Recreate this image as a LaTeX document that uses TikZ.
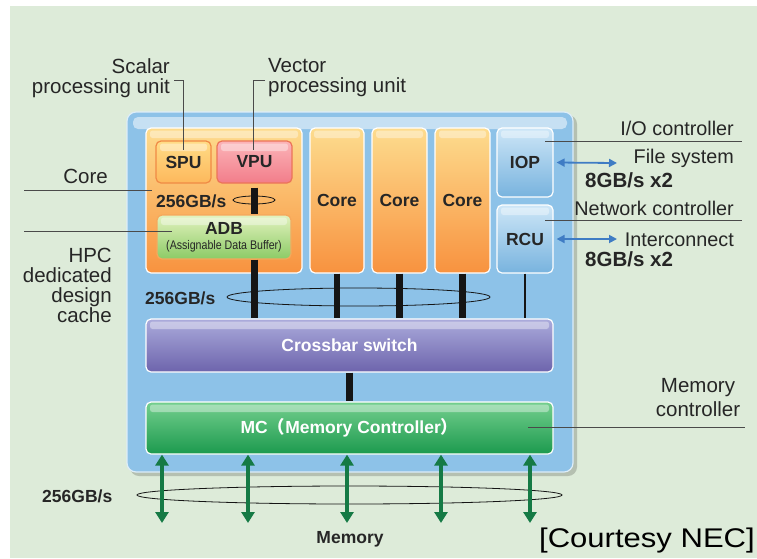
\documentclass[tikz,border=0pt]{standalone}
\usepackage{fontspec}
\setmainfont{Liberation Sans}
\newfontfamily\cjkfont{Noto Sans CJK SC}
\usetikzlibrary{arrows.meta}
\definecolor{bg}{HTML}{DDEBD9}
\definecolor{txt}{HTML}{262626}
\definecolor{mainblue}{HTML}{8DC2E8}
\definecolor{coretop}{HTML}{FDDC8E}
\definecolor{corebot}{HTML}{F8923F}
\definecolor{sputop}{HTML}{FFDC86}
\definecolor{spubot}{HTML}{FDB85C}
\definecolor{spuedge}{HTML}{F08A45}
\definecolor{vputop}{HTML}{FBB4B8}
\definecolor{vpubot}{HTML}{F27D8A}
\definecolor{vpuedge}{HTML}{EC7458}
\definecolor{adbtop}{HTML}{E2F2BE}
\definecolor{adbbot}{HTML}{8CCB66}
\definecolor{adbedge}{HTML}{F5A85C}
\definecolor{iotop}{HTML}{CDE6F7}
\definecolor{iobot}{HTML}{78B3DE}
\definecolor{xbtop}{HTML}{ABABDC}
\definecolor{xbbot}{HTML}{6D64AC}
\definecolor{mctop}{HTML}{74CF8E}
\definecolor{mcbot}{HTML}{1C9A4E}
\definecolor{memgreen}{HTML}{157A45}
\definecolor{arrblue}{HTML}{3F7CC4}
\definecolor{leadc}{HTML}{4A4A4A}
\definecolor{barc}{HTML}{151515}
\begin{document}
\begin{tikzpicture}[x=1pt,y=-1pt,
  lbl/.style={inner sep=0pt, text=txt, font=\fontsize{20.5}{20}\selectfont},
  rlbl/.style={lbl, font=\fontsize{19.8}{20}\selectfont},
  blbl/.style={inner sep=0pt, text=txt, font=\fontsize{17.5}{18}\selectfont\bfseries},
  bwlbl/.style={inner sep=0pt, text=txt, font=\fontsize{20.5}{20}\selectfont\bfseries},
  gloss/.style={path picture={\fill[white,opacity=.38,rounded corners=2.5pt]
      ([xshift=4pt,yshift=-2.5pt]path picture bounding box.north west) rectangle
      ([xshift=-4pt,yshift=-10pt]path picture bounding box.north east);}},
  box/.style={draw=white, line width=1.2pt, rounded corners=5pt, inner sep=0pt, gloss,
      text=txt, font=\fontsize{17.5}{18}\selectfont\bfseries},
  corebox/.style={box, top color=coretop, bottom color=corebot},
  iobox/.style={box, top color=iotop, bottom color=iobot},
  spubox/.style={box, draw=spuedge, top color=sputop, bottom color=spubot},
  vpubox/.style={box, draw=vpuedge, top color=vputop, bottom color=vpubot},
  adbbox/.style={box, draw=adbedge, top color=adbtop, bottom color=adbbot, align=center},
  xbox/.style={box, top color=xbtop, bottom color=xbbot, text=white},
  mcbox/.style={box, top color=mctop, bottom color=mcbot, text=white},
  ell/.style={draw=barc, line width=0.8pt},
  bar/.style={draw=barc, line width=6.5pt},
  leader/.style={draw=leadc, line width=0.8pt},
  memarrow/.style={draw=memgreen, line width=3.8pt, {Triangle[width=13pt,length=11pt]}-{Triangle[width=13pt,length=11pt]}},
  blarrow/.style={draw=arrblue, line width=1.8pt, {Triangle[width=8pt,length=8pt]}-{Triangle[width=8pt,length=8pt]}}
]
\useasboundingbox (0,0) rectangle (757,558);
\fill[white] (0,0) rectangle (757,558);
\fill[bg] (10,6) rectangle (757,558);

% main chip box
\fill[black,opacity=.18,rounded corners=9pt] (130,115) rectangle (577,476);
\node[draw=white!70!mainblue, line width=1.2pt, fill=mainblue, rounded corners=9pt,
      minimum width=446pt, minimum height=360pt, inner sep=0pt,
      path picture={\fill[white,opacity=.5,rounded corners=5pt]
        ([xshift=6pt,yshift=-5pt]path picture bounding box.north west) rectangle
        ([xshift=-6pt,yshift=-17pt]path picture bounding box.north east);}]
      (chip) at (350,292) {};

% cores
\node[corebox, minimum width=156pt, minimum height=145pt] (core1) at (224,200.5) {};
\node[corebox, minimum width=54pt, minimum height=145pt] (core2) at (337,200.5) {Core};
\node[corebox, minimum width=55pt, minimum height=145pt] (core3) at (399.5,200.5) {Core};
\node[corebox, minimum width=55pt, minimum height=145pt] (core4) at (462.5,200.5) {Core};
\node[iobox, minimum width=56pt, minimum height=69pt] (iop) at (525,162.5) {IOP};
\node[iobox, minimum width=56pt, minimum height=68pt] (rcu) at (525,239) {RCU};

\node[spubox, minimum width=55pt, minimum height=42pt] (spu) at (183.5,162) {SPU};
\node[vpubox, minimum width=75pt, minimum height=42pt] (vpu) at (254.5,162) {VPU};
\node[adbbox, minimum width=134pt, minimum height=44pt] (adb) at (224,237)
  {ADB\\[-3pt]{\fontsize{12.5}{13}\selectfont\mdseries\scalebox{0.85}[1]{(Assignable Data Buffer)}}};

\node[xbox, minimum width=407pt, minimum height=53pt] (xbar) at (349.5,345.5) {\raisebox{-2pt}{Crossbar switch}};
\node[mcbox, minimum width=407pt, minimum height=52pt] (mc) at (349.5,428)
  {\raisebox{-2pt}{MC{\cjkfont （}Memory Controller{\cjkfont ）}}};

% bandwidth ellipses
\draw[ell] (254,200) ellipse [x radius=21pt, y radius=4pt];
\draw[ell] (358.5,297) ellipse [x radius=131.5pt, y radius=9pt];
\draw[ell] (349.5,495) ellipse [x radius=212.5pt, y radius=9pt];

% data paths
\draw[bar] ([yshift=-4pt]vpu.south) -- (vpu.south |- adb.north);
\draw[bar] (vpu.south |- adb.south) -- (vpu.south |- xbar.north);
\draw[bar] (core2.south) -- (core2.south |- xbar.north);
\draw[bar] (core3.south) -- (core3.south |- xbar.north);
\draw[bar] (core4.south) -- (core4.south |- xbar.north);
\draw[draw=barc, line width=2.2pt] (rcu.south) -- (rcu.south |- xbar.north);
\draw[bar] (xbar.south) -- (mc.north);

% memory arrows
\coordinate (m1) at (162,523);
\coordinate (m2) at (248,523);
\coordinate (m3) at (347,523);
\coordinate (m4) at (441,523);
\coordinate (m5) at (530,523);
\foreach \m in {m1,m2,m3,m4,m5}
  \draw[memarrow] (mc.south -| \m) -- (\m);

% IO arrows
\coordinate (fsend) at (617,163);
\coordinate (icend) at (617,239);
\draw[blarrow] ([xshift=3pt]iop.east) -- (fsend);
\draw[blarrow] ([xshift=3pt]rcu.east) -- (icend);

% text labels
\node[blbl, anchor=base west] (bwcore) at (156,207) {256GB/s};
\node[blbl, anchor=base west] (bwcache) at (145,304) {256GB/s};
\node[blbl, anchor=base west] (bwmem) at (42,502) {256GB/s};
\node[blbl, anchor=base] (memory) at (350,543) {Memory};

\node[lbl, anchor=east, align=right] (scalar) at (170,78) {Scalar\\processing unit};
\node[lbl, anchor=west, align=left] (vector) at (268,78) {Vector\\processing unit};
\node[lbl, anchor=base east] (corelbl) at (108,183) {Core};
\node[lbl, anchor=east, align=right] (hpc) at (112,285) {HPC\\dedicated\\design\\cache};
\node[rlbl, anchor=base east] (iolbl) at (734,135) {I/O controller};
\node[rlbl, anchor=base east] (fslbl) at (734,163) {File system};
\node[bwlbl, anchor=base west] (bwio) at (585,187) {8GB/s x2};
\node[rlbl, anchor=base east] (netlbl) at (734,215) {Network controller};
\node[rlbl, anchor=base east] (iclbl) at (734,246) {Interconnect};
\node[bwlbl, anchor=base west] (bwnet) at (585,266) {8GB/s x2};
\node[lbl, anchor=center, align=center, font=\fontsize{20.5}{24}\selectfont] (mclbl) at (698,398) {Memory\\controller};
\node[inner sep=0pt, anchor=base east, text=black, font=\fontsize{27}{27}\selectfont] (courtesy) at (755,547)
  {\scalebox{1.15}[1]{[Courtesy NEC]}};

% leader lines
\coordinate (sca) at (174,80);
\coordinate (scb) at (183,150);
\coordinate (vea) at (265,80);
\coordinate (veb) at (253,150);
\coordinate (cla) at (24,190);
\coordinate (clb) at (152,190);
\coordinate (ada) at (24,231);
\coordinate (adb-in) at (172,231);
\coordinate (ioa) at (545,141);
\coordinate (iob) at (742,141);
\coordinate (neta) at (545,220);
\coordinate (netb) at (742,220);
\coordinate (mca) at (528,427);
\coordinate (mcb) at (745,427);
\draw[leader] (sca) -| (scb);
\draw[leader] (vea) -| (veb);
\draw[leader] (cla) -- (clb);
\draw[leader] (ada) -- (adb-in);
\draw[leader] (ioa) -- (iob);
\draw[leader] (neta) -- (netb);
\draw[leader] (mca) -- (mcb);
\end{tikzpicture}
\end{document}
